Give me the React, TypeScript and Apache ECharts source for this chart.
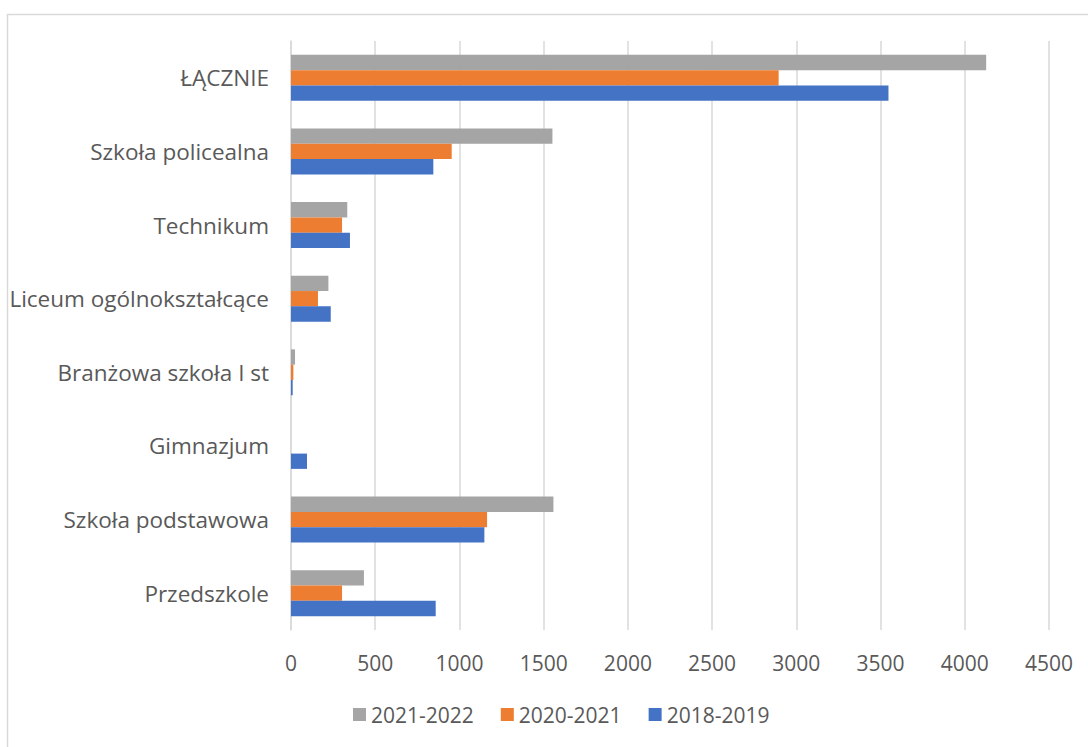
import React, { useEffect, useRef } from "react";
import * as echarts from "echarts";

const categories = [
  "Przedszkole",
  "Szkoła podstawowa",
  "Gimnazjum",
  "Branżowa szkoła I st",
  "Liceum ogólnokształcące",
  "Technikum",
  "Szkoła policealna",
  "ŁĄCZNIE",
];
const s2021_2022 = [433, 1558, 0, 24, 222, 334, 1552, 4127];
const s2020_2021 = [303, 1164, 0, 14, 160, 303, 954, 2895];
const s2018_2019 = [859, 1148, 95, 10, 236, 350, 845, 3547];
const xTicks = { min: 0, max: 4500, interval: 500 };

const FONT = "'Open Sans', sans-serif";
const TXT = "#595959";

export default function App() {
  const ref = useRef<HTMLDivElement>(null);
  useEffect(() => {
    document.body.style.margin = "0";
    const chart = echarts.init(ref.current!, null, { renderer: "svg" });
    const barCommon = { type: "bar" as const, barWidth: 15.3, barGap: "0%" };
    chart.setOption({
      animation: false,
      textStyle: { fontFamily: FONT },
      graphic: [
        {
          type: "rect",
          left: 5,
          top: 12,
          shape: { width: 1200, height: 900 },
          style: { fill: "none", stroke: "#d9d9d9", lineWidth: 1.5 },
          silent: true,
        },
      ],
      grid: { left: 291, right: 39, top: 41, bottom: 117, containLabel: false },
      legend: {
        data: ["2021-2022", "2020-2021", "2018-2019"],
        bottom: 17,
        left: 348,
        itemWidth: 13,
        itemHeight: 13,
        itemGap: 27,
        icon: "rect",
        textStyle: { color: TXT, fontSize: 21, fontFamily: FONT },
      },
      xAxis: {
        type: "value",
        min: xTicks.min,
        max: xTicks.max,
        interval: xTicks.interval,
        axisLine: { show: false },
        axisTick: { show: false },
        splitLine: { lineStyle: { color: "#d9d9d9", width: 1.5 } },
        axisLabel: {
          color: TXT,
          fontSize: 21,
          margin: 22,
          fontFamily: FONT,
          formatter: (v: number) => String(v),
        },
      },
      yAxis: {
        type: "category",
        data: categories,
        axisLine: { show: true, lineStyle: { color: "#d9d9d9", width: 1.5 } },
        axisTick: { show: false },
        axisLabel: { color: TXT, fontSize: 22.5, margin: 22, fontFamily: FONT },
      },
      series: [
        { ...barCommon, name: "2021-2022", data: s2021_2022, itemStyle: { color: "#A5A5A5" } },
        { ...barCommon, name: "2020-2021", data: s2020_2021, itemStyle: { color: "#ED7D31" } },
        { ...barCommon, name: "2018-2019", data: s2018_2019, itemStyle: { color: "#4472C4" } },
      ],
    });
    return () => chart.dispose();
  }, []);
  return <div ref={ref} style={{ width: 1088, height: 747 }} />;
}
